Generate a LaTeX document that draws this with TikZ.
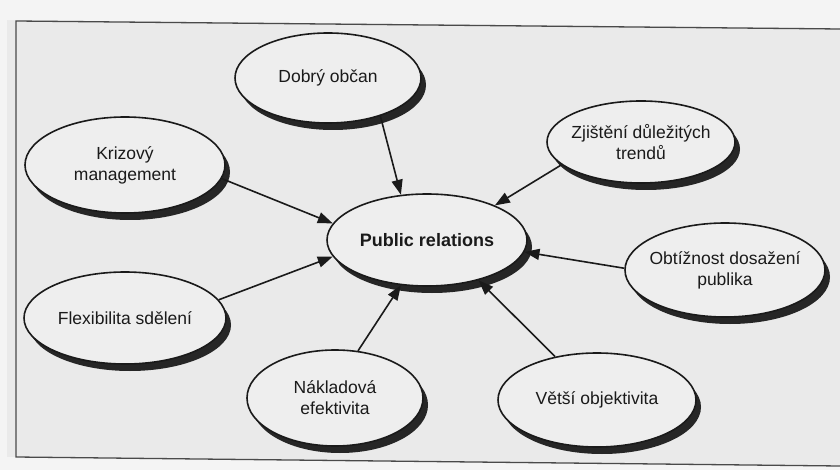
\documentclass[tikz,border=0pt]{standalone}
\usepackage{fontspec}
\setmainfont{Liberation Sans}
\usetikzlibrary{shapes.geometric,arrows.meta,shadows}
\definecolor{paper}{HTML}{EAEAEA}
\definecolor{margin}{HTML}{F4F4F4}
\definecolor{bubblefill}{HTML}{EEEEEE}
\definecolor{ink}{HTML}{1A1A1A}
\definecolor{rule}{HTML}{4A4A4A}
\begin{document}
\begin{tikzpicture}[x=1pt,y=-1pt,
  bubble/.style={ellipse, draw=ink, line width=1.6pt, fill=bubblefill, inner sep=0pt,
    drop shadow={shadow xshift=5pt, shadow yshift=-7pt, fill=black!85, opacity=1}},
  caption/.style={font=\fontsize{17.5}{21}\selectfont, align=center, text=ink},
  maincaption/.style={font=\fontsize{18}{21}\selectfont\bfseries, align=center, text=ink},
  link/.style={line width=1.6pt, draw=ink, -{Triangle[length=15pt,width=11pt]}}]
\useasboundingbox (0,0) rectangle (840,470);
% paper and page frame
\fill[paper] (0,0) rectangle (840,470);
\fill[margin] (0,0) rectangle (7,470);
\fill[margin] (7,0) -- (840,0) -- (840,28) -- (7,20) -- cycle;
\fill[margin] (7,470) -- (840,470) -- (840,466) -- (7,457) -- cycle;
\draw[rule, line width=1.3pt] (840,29) -- (16,21) -- (16,457) -- (840,466);

% central topic
\node[bubble, minimum width=200pt, minimum height=92pt,
      label={[maincaption]center:Public relations}] (pr) at (427,240) {};

% surrounding factors
\node[bubble, minimum width=186pt, minimum height=90pt,
      label={[caption]center:Dobrý občan}] (dob) at (328,78) {};
\node[bubble, minimum width=200pt, minimum height=96pt,
      label={[caption]center:Krizový\\management}] (kri) at (125,165) {};
\node[bubble, minimum width=188pt, minimum height=82pt,
      label={[caption]center:Zjištění důležitých\\trendů}] (zji) at (641,142) {};
\node[bubble, minimum width=200pt, minimum height=94pt,
      label={[caption]center:Obtížnost dosažení\\publika}] (obt) at (725,270) {};
\node[bubble, minimum width=202pt, minimum height=92pt,
      label={[caption]center:Flexibilita sdělení}] (fle) at (125,318) {};
\node[bubble, minimum width=176pt, minimum height=96pt,
      label={[caption]center:Nákladová\\efektivita}] (nak) at (335,398) {};
\node[bubble, minimum width=198pt, minimum height=94pt,
      label={[caption]center:Větší objektivita}] (vet) at (597,400) {};

% arrows into the central topic
\draw[link] (dob.-36)  -- (pr.120);
\draw[link] (zji.-164) -- (pr.27);
\draw[link] (kri.-8)   -- (pr.170);
\draw[link] (obt.179)  -- (pr.-7);
\draw[link] (fle.11)   -- (pr.-170);
\draw[link] (nak.64)   -- (pr.-120);
\draw[link] (vet.134)  -- (pr.-38);
\end{tikzpicture}
\end{document}
